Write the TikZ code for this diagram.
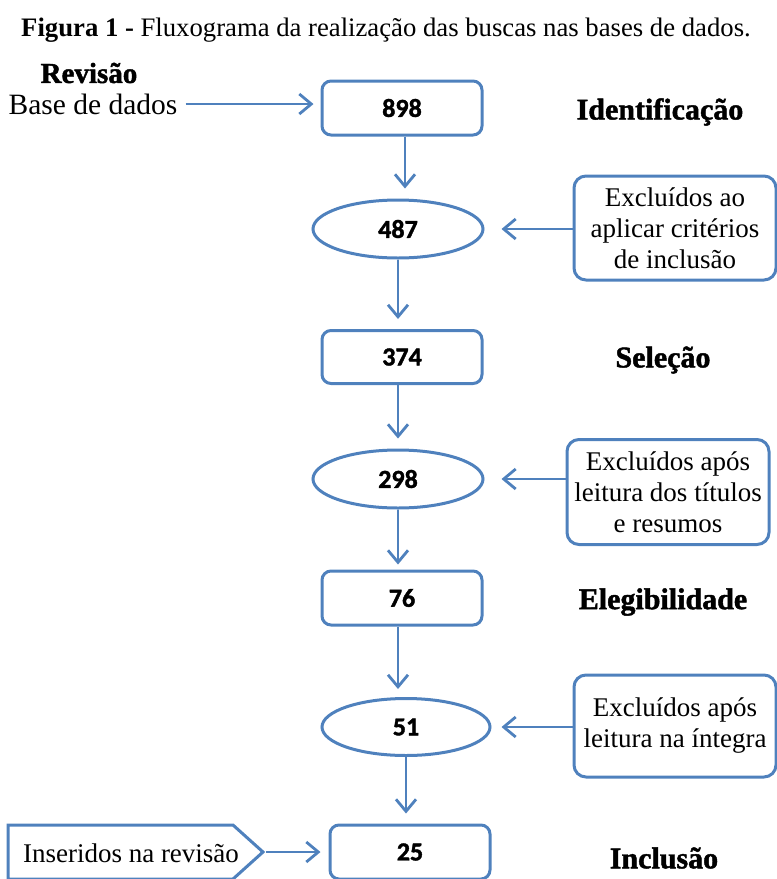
\documentclass[tikz,border=0pt]{standalone}
\usepackage{fontspec}
\setmainfont{Liberation Serif}
\newfontfamily\numfont{Carlito}[BoldFeatures={FakeBold=1.5}]
\newfontfamily\heavyfont{Liberation Serif}[BoldFeatures={FakeBold=1.5}]
\usetikzlibrary{arrows.meta,shapes.geometric}
\definecolor{ob}{HTML}{4F81BD}
\begin{document}
\begin{tikzpicture}[x=1pt,y=-1pt,
 numbox/.style={draw=ob, line width=3pt, rounded corners=9pt, minimum width=160pt, minimum height=54pt, inner sep=0pt, font=\numfont\bfseries\fontsize{26}{30}\selectfont},
 numell/.style={ellipse, draw=ob, line width=3pt, minimum width=170pt, minimum height=58pt, inner sep=0pt, font=\numfont\bfseries\fontsize{26}{30}\selectfont},
 sidebox/.style={draw=ob, line width=3pt, rounded corners=12pt, minimum width=202pt, inner sep=2pt, align=center, font=\fontsize{27}{31}\selectfont},
 stage/.style={inner sep=0pt, font=\heavyfont\bfseries\fontsize{30}{34}\selectfont},
 plain/.style={inner sep=0pt, font=\fontsize{29.5}{33}\selectfont},
 arr/.style={draw=ob, line width=2.8pt, -{Straight Barb[length=12pt,width=20pt]}},
]
\useasboundingbox (0,0) rectangle (777,879);

\node[inner sep=0pt, font=\fontsize{26.7}{30}\selectfont] (title) at (386,30) {\textbf{Figura 1 -} Fluxograma da realização das buscas nas bases de dados.};

\node[stage, font=\heavyfont\bfseries\fontsize{29}{34}\selectfont] (rev) at (89,73) {Revisão};
\node[plain] (bdd) at (93,104) {Base de dados};

\node[numbox] (n898) at (402,108) {898};
\node[numell] (e487) at (398,229) {487};
\node[numbox, minimum height=53pt] (n374) at (402,357) {374};
\node[numell] (e298) at (398,479) {298};
\node[numbox] (n76) at (402,598) {76};
\node[numell, minimum width=168pt, minimum height=57pt] (e51) at (406,727) {51};
\node[numbox] (n25) at (410,852) {25};

\node[stage] (st1) at (660,112) {Identificação};
\node[stage] (st2) at (663,360) {Seleção};
\node[stage] (st3) at (663,602) {Elegibilidade};
\node[stage] (st4) at (664,858) {Inclusão};

\node[sidebox, minimum height=104pt] (s1) at (675,228) {Excluídos ao\\aplicar critérios\\de inclusão};
\node[sidebox, minimum height=105pt] (s2) at (668,492) {Excluídos após\\leitura dos títulos\\e resumos};
\node[sidebox, minimum height=102pt] (s3) at (675,726) {Excluídos após\\leitura na íntegra};

\node[inner sep=0pt, font=\fontsize{27}{31}\selectfont] (ins) at (131,853) {Inseridos na revisão};
\draw[draw=ob, line width=3pt, line join=miter] (8,825) -- (233,825) -- (263,852) coordinate (instip) -- (233,879) -- (8,879) -- cycle;

\draw[arr, shorten >=7pt, shorten <=8pt] (bdd.east) -- (bdd.east -| n898.west);
\draw[arr, shorten >=8pt, shorten <=3pt] (instip) -- (instip -| n25.west);

\draw[arr, shorten >=10pt] ([xshift=3pt]n898.south) -- ([xshift=3pt]n898.south |- e487.north);
\draw[arr, shorten >=10pt] (e487.south) -- (e487.south |- n374.north);
\draw[arr, shorten >=10pt] (e298.north |- n374.south) -- (e298.north);
\draw[arr, shorten >=5pt] (e298.south) -- (e298.south |- n76.north);
\draw[arr, shorten >=8pt] ([xshift=-4pt]n76.south) -- ([xshift=-4pt]n76.south |- e51.north);
\draw[arr, shorten >=10pt] (e51.south) -- (e51.south |- n25.north);

\draw[arr, shorten >=17pt] (s1.west |- e487) -- (e487.east);
\draw[arr, shorten >=17pt] (s2.west |- e298) -- (e298.east);
\draw[arr, shorten >=10pt] (s3.west |- e51) -- (e51.east);
\end{tikzpicture}
\end{document}
